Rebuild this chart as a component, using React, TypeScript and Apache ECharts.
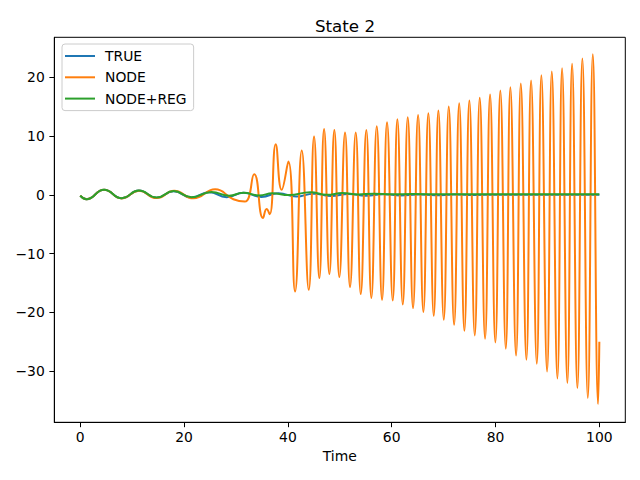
import React, { useEffect, useRef } from "react";
import * as echarts from "echarts";

const xTicks = [0, 20, 40, 60, 80, 100];
const yTicks = [-30, -20, -10, 0, 10, 20];

const trueData: [number, number][] = [
  [0, -0.15], [1.2, -0.75], [4.6, 0.85], [8.0, -0.6], [11.3, 0.72], [14.7, -0.5],
  [18.0, 0.62], [21.4, -0.45], [24.8, 0.45], [28.2, -0.4], [31.5, 0.35], [34.9, -0.35],
  [38.2, 0.28], [41.6, -0.3], [45.0, 0.2], [48.3, -0.22], [51.7, 0.15], [55.0, -0.15],
  [58.4, 0.1], [61.7, -0.1], [65.1, 0.06], [68.4, -0.06], [72, 0.04], [76, -0.03],
  [80, 0.02], [100, 0],
];

const nodeData: [number, number][] = [
  [0, -0.15], [1.2, -0.75], [4.6, 0.85], [8.0, -0.62], [11.3, 0.7], [14.7, -0.55],
  [18.1, 0.68], [21.8, -0.6], [26.0, 0.95], [29.5, -0.75], [31.7, -1.15], [33.5, 3.5],
  [35.2, -3.95], [35.9, -2.4], [36.5, -3.3], [37.66, 8.62], [38.8, 0.85], [40.09, 5.66],
  [41.38, -16.45], [42.67, 7.53], [44.02, -16.16], [45.04, 9.91], [46.06, -14.17],
  [46.97, 11.22], [47.99, -13.49], [48.95, 11.05], [49.91, -14.0], [51.01, 10.6],
  [51.97, -15.7], [53.07, 10.6], [54.04, -16.89], [55.11, 11.05], [56.08, -17.57],
  [57.12, 11.68], [58.14, -17.86], [59.1, 12.36], [60.2, -17.98], [61.09, 12.87],
  [62.13, -18.66], [63.09, 13.21], [64.11, -19.27], [65.08, 13.6], [66.1, -19.95],
  [67.06, 13.89], [68.1, -20.58], [68.99, 14.34], [70.03, -21.26], [70.99, 15.02],
  [72.02, -22.11], [73.0, 15.56], [74.0, -23.13], [74.96, 16.04], [76.0, -23.93],
  [76.96, 16.5], [77.99, -24.49], [78.95, 17.06], [79.97, -25.12], [80.93, 17.74],
  [81.98, -26.19], [82.86, 18.32], [83.96, -27.33], [84.87, 18.93], [85.95, -28.06],
  [86.85, 19.44], [87.95, -28.74], [88.83, 20.36], [89.93, -30.05], [90.84, 20.97],
  [91.92, -31.24], [92.82, 21.55], [93.84, -32.02], [94.75, 22.28], [95.77, -32.87],
  [96.73, 23.18], [97.78, -34.57], [98.74, 23.93], [99.76, -35.6], [100.0, -25.0],
];

const regData: [number, number][] = [
  [0, -0.15], [1.2, -0.75], [4.6, 0.88], [8.0, -0.58], [11.3, 0.74], [14.7, -0.47],
  [18.0, 0.64], [21.4, -0.4], [25.3, 0.5], [28.7, -0.15], [31.4, 0.35], [34.5, -0.1],
  [37.0, 0.25], [40.2, -0.05], [44.3, 0.45], [47.5, 0.0], [50.5, 0.3], [53.5, 0.05],
  [56.5, 0.2], [60, 0.08], [64, 0.12], [70, 0.08], [80, 0.1], [90, 0.08], [100, 0.1],
];

const FONT = "DejaVu Sans";
const fmt = (v: number) => String(v).replace("-", "\u2212");

export default function App() {
  const ref = useRef<HTMLDivElement>(null);
  useEffect(() => {
    if (!ref.current) return;
    const chart = echarts.init(ref.current, null, { renderer: "svg" });
    const mkLine = (name: string, data: [number, number][], color: string) => ({
      name,
      type: "line",
      data,
      smooth: true,
      showSymbol: false,
      symbol: "none",
      lineStyle: { color, width: 2 },
      itemStyle: { color },
    });
    chart.setOption({
      animation: false,
      backgroundColor: "#ffffff",
      title: {
        text: "State 2",
        left: 340,
        top: 12,
        textAlign: "center",
        textStyle: { fontFamily: FONT, fontSize: 16.7, fontWeight: "normal", color: "#000" },
      },
      legend: {
        orient: "vertical",
        left: 62,
        top: 44,
        padding: [5, 7, 5, 3],
        itemGap: 7.3,
        itemWidth: 30,
        itemHeight: 2,
        icon: "rect",
        backgroundColor: "rgba(255,255,255,0.8)",
        borderColor: "#cccccc",
        borderWidth: 1,
        borderRadius: 3,
        textStyle: { fontFamily: FONT, fontSize: 13.9, color: "#000", padding: [0, 0, 0, 5] },
        data: ["TRUE", "NODE", "NODE+REG"],
      },
      grid: {
        left: 54.3,
        top: 37.3,
        width: 571,
        height: 385,
        show: true,
        borderColor: "#000",
        borderWidth: 1,
        backgroundColor: "transparent",
      },
      xAxis: {
        type: "value",
        min: -5,
        max: 105,
        name: "Time",
        nameLocation: "middle",
        nameGap: 26,
        nameTextStyle: { fontFamily: FONT, fontSize: 13.9, color: "#000" },
        axisLine: { show: true, onZero: false, lineStyle: { color: "#000", width: 1 } },
        axisTick: { show: true, length: 4.9, lineStyle: { color: "#000" }, customValues: xTicks },
        axisLabel: {
          fontFamily: FONT,
          fontSize: 13.9,
          color: "#000",
          margin: 8,
          customValues: xTicks,
          formatter: fmt,
        },
        splitLine: { show: false },
      },
      yAxis: {
        type: "value",
        min: -38.7,
        max: 26.8,
        axisLine: { show: true, onZero: false, lineStyle: { color: "#000", width: 1 } },
        axisTick: { show: true, length: 4.9, lineStyle: { color: "#000" }, customValues: yTicks },
        axisLabel: {
          fontFamily: FONT,
          fontSize: 13.9,
          color: "#000",
          margin: 9.5,
          customValues: yTicks,
          formatter: fmt,
        },
        splitLine: { show: false },
      },
      series: [
        mkLine("TRUE", trueData, "#1f77b4"),
        mkLine("NODE", nodeData, "#ff7f0e"),
        mkLine("NODE+REG", regData, "#2ca02c"),
      ],
    });
    return () => chart.dispose();
  }, []);
  return (
    <div
      ref={ref}
      style={{ position: "fixed", left: 0, top: 0, width: 640, height: 480, background: "#fff" }}
    />
  );
}
